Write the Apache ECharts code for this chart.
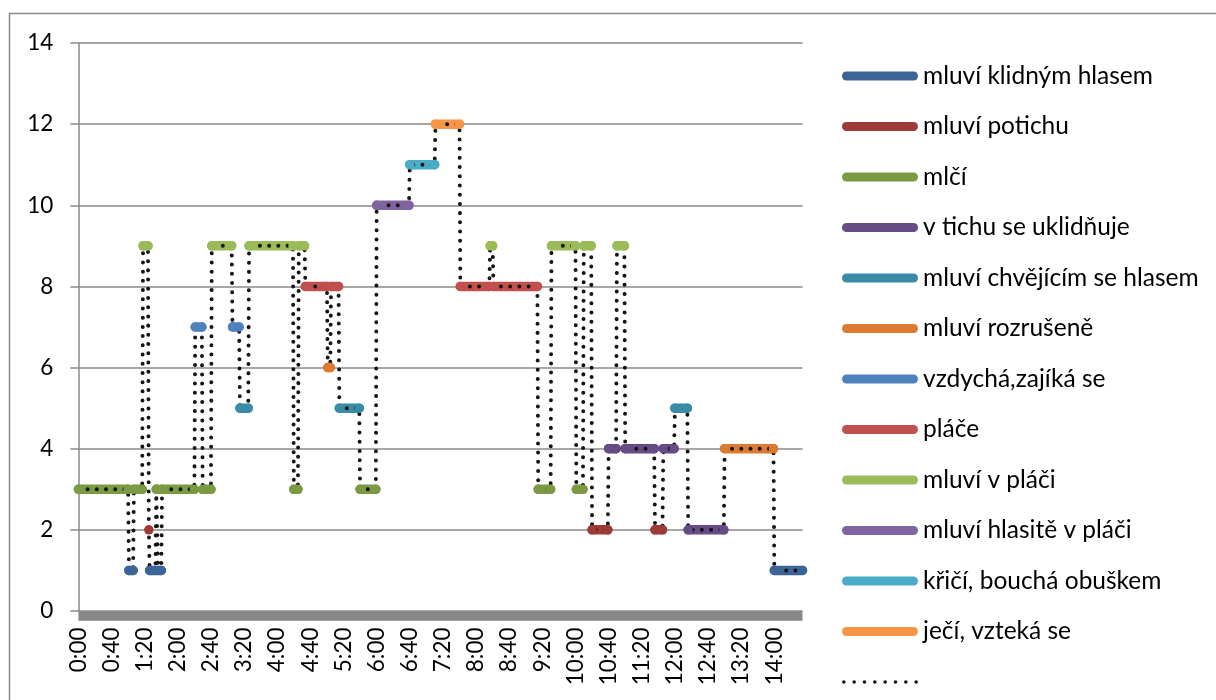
<!DOCTYPE html>
<html>
<head>
<meta charset="utf-8">
<script src="https://cdn.jsdelivr.net/npm/echarts@6/dist/echarts.min.js"></script>
<style>
html,body{margin:0;padding:0;background:#fff;}
#chart{width:1216px;height:700px;}
</style>
</head>
<body>
<div id="chart"></div>
<script>
// Behaviour categories (legend order)
const seriesNames = [
  'mluví klidným hlasem',
  'mluví potichu',
  'mlčí',
  'v tichu se uklidňuje',
  'mluví chvějícím se hlasem',
  'mluví rozrušeně',
  'vzdychá,zajíká se',
  'pláče',
  'mluví v pláči',
  'mluví hlasitě v pláči',
  'křičí, bouchá obuškem',
  'ječí, vzteká se'
];
const seriesColors = [
  '#3C6496', '#9C3B38', '#7B9A43', '#654C85', '#3A8CA6', '#DB7A30',
  '#4F81BD', '#C0504D', '#9BBB59', '#8064A2', '#4BACC6', '#F79646'
];
const dottedName = ' ';

// Observation segments: start minute, end minute, level, behaviour index
const segStart = [0,61,67,78,85,86,94,96,101,141,150,161,186,195,206,260,266,274,301,305,315,340,360,400,431,461,497,501,555,571,601,610,620,640,650,660,696,706,720,736,780,840];
const segEnd   = [60,66,77,84,85,93,95,100,140,149,160,185,194,205,259,265,273,300,304,314,339,359,399,430,460,496,500,554,570,600,609,619,639,649,659,695,705,719,735,779,839,874];
const segValue = [3,1,3,9,2,1,3,1,3,7,3,9,7,5,9,3,9,8,6,8,5,3,10,11,12,8,9,8,3,9,3,9,2,4,9,4,2,4,5,2,4,1];
const segSeries= [2,0,2,8,1,0,2,0,2,6,2,8,6,4,8,2,8,7,5,7,4,2,9,10,11,7,8,7,2,8,2,8,1,3,8,3,1,3,4,3,5,0];

// Axis tick labels (every 40 minutes)
const tickLabels = ['0:00','0:40','1:20','2:00','2:40','3:20','4:00','4:40','5:20','6:00','6:40','7:20','8:00','8:40','9:20','10:00','10:40','11:20','12:00','12:40','13:20','14:00'];
const yTicks = [0,2,4,6,8,10,12,14];

const FONT = 'Lato';
const capsule = 'path://M4.5 0H71.5A4.5 4.5 0 0 1 71.5 9H4.5A4.5 4.5 0 0 1 4.5 0Z';
let dots = 'path://';
for (let i = 0; i < 8; i++) {
  const cx = 1.7 + i * 9.6;
  dots += 'M' + (cx - 1.7) + ' 1.7A1.7 1.7 0 1 0 ' + (cx + 1.7) + ' 1.7A1.7 1.7 0 1 0 ' + (cx - 1.7) + ' 1.7Z';
}

const series = seriesNames.map((name, k) => {
  const data = [];
  segStart.forEach((s, i) => {
    if (segSeries[i] !== k) return;
    data.push([s, segValue[i]]);
    if (segEnd[i] !== s) data.push([segEnd[i], segValue[i]]);
    data.push([segEnd[i] + 0.5, '-']);
  });
  const c = seriesColors[k];
  return {
    name, type: 'line', data,
    color: c,
    lineStyle: {width: 9.5, cap: 'round', join: 'round', color: c},
    itemStyle: {color: c, borderWidth: 0},
    symbol: 'circle', symbolSize: 9.5, showSymbol: true, showAllSymbol: true,
    emphasis: {disabled: true}, animation: false, silent: true
  };
});

const dottedData = [];
segStart.forEach((s, i) => {
  dottedData.push([s, segValue[i]]);
  if (segEnd[i] !== s) dottedData.push([segEnd[i], segValue[i]]);
});
series.push({
  name: dottedName, type: 'line', data: dottedData,
  color: '#151515',
  lineStyle: {width: 4, type: [0.01, 9.2], cap: 'round', join: 'round', color: '#151515'},
  itemStyle: {color: '#151515'},
  symbol: 'none', showSymbol: false,
  emphasis: {disabled: true}, animation: false, silent: true
});

const legendData = seriesNames.map(n => ({name: n, icon: capsule}));
legendData.push({name: dottedName, icon: dots});

const chart = echarts.init(document.getElementById('chart'), null, {renderer: 'canvas'});
chart.setOption({
  backgroundColor: '#fff',
  animation: false,
  graphic: [{
    type: 'rect', silent: true, z: -10,
    shape: {x: 9.5, y: 13.5, width: 1240, height: 720},
    style: {fill: 'none', stroke: '#8a8a8a', lineWidth: 1.5}
  }],
  grid: {left: 78.4, top: 43, right: 413.5, bottom: 89, containLabel: false},
  legend: {
    orient: 'vertical', left: 842, top: 63.5, height: 640, padding: 0,
    itemWidth: 76, itemHeight: 9, itemGap: 25.5,
    selectedMode: false,
    textStyle: {fontFamily: FONT, fontSize: 24.5, color: '#000'},
    data: legendData
  },
  xAxis: {
    type: 'value', min: 0, max: 874, interval: 40,
    offset: 4.5,
    axisLine: {show: true, onZero: false, lineStyle: {color: '#878787', width: 9.5, cap: 'butt'}},
    axisTick: {show: false},
    splitLine: {show: false},
    axisLabel: {
      rotate: 90, margin: 12, fontFamily: FONT, fontSize: 22.5, color: '#000',
      showMaxLabel: true, showMinLabel: true,
      formatter: v => (v % 40 === 0 && tickLabels[v / 40] !== undefined) ? tickLabels[v / 40] : ''
    }
  },
  yAxis: {
    type: 'value', min: yTicks[0], max: yTicks[yTicks.length - 1], interval: 2,
    axisLine: {show: true, lineStyle: {color: '#8a8a8a', width: 1.5}},
    axisTick: {show: true, length: 8, lineStyle: {color: '#8a8a8a', width: 1.5}},
    splitLine: {show: true, lineStyle: {color: '#8a8a8a', width: 1.5}},
    axisLabel: {margin: 25, fontFamily: FONT, fontSize: 22.5, color: '#000'}
  },
  series
});
</script>
</body>
</html>
